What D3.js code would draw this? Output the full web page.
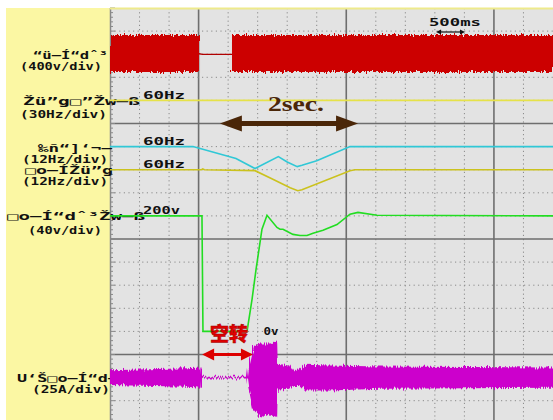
<!DOCTYPE html>
<html>
<head>
<meta charset="utf-8">
<title>scope</title>
<script src="https://cdn.jsdelivr.net/npm/d3@7/dist/d3.min.js"></script>
<style>
body{margin:0;background:#fff;}
svg{display:block;}
.lbl{font-family:"DejaVu Sans Mono",monospace;font-weight:bold;font-size:10px;fill:#111;}
.small{font-family:"DejaVu Sans Mono",monospace;font-weight:bold;font-size:10px;fill:#111;}
</style>
</head>
<body>
<div id="chart"></div>
<script>
// time in seconds, 0.5 s / div, 15 div across
var timeDomain = [0, 7.5];

// input voltage (V), envelope [t, max, min]
var inputOn1 = [[0, 332, -308], [1.507, 332, -308]];
var inputOn2 = [[2.065, 332, -308], [7.5, 332, -308]];
var inputOff = [[1.507, 8], [1.57, -2], [2.065, -2]];

// frequency command (Hz)
var freqCmd = [[0, 60], [7.5, 60]];

// rotation speed (Hz)
var speed = [[0, 60], [1.405, 60], [2.133, 53.8], [2.455, 48.6], [2.85, 54.8],
  [3.0, 52.0], [3.17, 49.6], [3.25, 50.3], [3.5, 52.7], [4.063, 60], [7.5, 60]];

// output frequency (Hz)
var outFreq = [[0, 60], [1.55, 60], [1.57, 60.4], [1.6, 60], [2.455, 59.5], [2.74, 55.3],
  [3.05, 50.6], [3.18, 49.1], [3.25, 49.6], [4.063, 59.5], [4.15, 60], [7.5, 60]];

// output voltage command (V)
var voltCmd = [[0, 200], [1.557, 200], [1.574, 0], [2.32, 0], [2.404, 55], [2.472, 107],
  [2.573, 177], [2.658, 201], [2.827, 180], [2.878, 177], [2.929, 177], [3.098, 168],
  [3.217, 166], [3.335, 166], [3.437, 170], [3.606, 175], [3.843, 185], [4.063, 203],
  [4.198, 206], [4.52, 201], [7.5, 200]];

// U phase output current (A), envelope [t, max, min]
var current = [[0, 8, -8], [1.3, 10, -10], [1.55, 11, -11], [1.56, 1, -1], [2.32, 1, -1],
  [2.34, 12, -10], [2.42, 34, -34], [2.54, 37, -43], [2.71, 37, -40], [2.83, 39, -43],
  [2.84, 15, -13], [3.05, 13, -12], [3.1, 8, -9], [3.22, 9, -9], [3.3, 14, -14],
  [3.72, 13, -14], [4.57, 12, -12], [7.5, 11, -11]];

var labelNames = ["\u201c\u00fc\u2014\u00cd\u201cd\u02c6\u00b3", "\u017d\u00fc\u201dg\u25a1\u201d\u017dw\u2014\u00df",
  "\u2030\u00f1\u201c]\u2018\u00ac\u2014", "\u25a1o\u2014\u00cd\u017d\u00fc\u201dg",
  "\u25a1o\u2014\u00cd\u201cd\u02c6\u00b3\u017dw\u2014\u00df", "U\u2018\u0160\u25a1o\u2014\u00cd\u201cd\u2014"];
var labelScales = ["(400v/div)", "(30Hz/div)", "(12Hz/div)", "(12Hz/div)", "(40v/div)", "(25A/div)"];

var W = 553, H = 420;
var svg = d3.select("#chart").append("svg").attr("width", W).attr("height", H);

var x = d3.scaleLinear().domain(timeDomain).range([110, 553]);
var div = d3.scaleLinear().domain([0, 18]).range([8, 8 + 18 * 23.1]);
function chan(zeroDiv, perDiv) {
  return d3.scaleLinear().domain([0, perDiv]).range([div(zeroDiv), div(zeroDiv - 1)]);
}
var yRed = chan(2, 400), yF1 = chan(6, 30), yCy = chan(11, 12), yF2 = chan(12, 12),
    yGr = chan(14, 40), yMg = chan(16, 25);

// noise filter for the dense waveforms
var defs = svg.append("defs");
var f = defs.append("filter").attr("id", "rough").attr("x", "-5%").attr("y", "-20%").attr("width", "110%").attr("height", "140%");
f.append("feTurbulence").attr("type", "fractalNoise").attr("baseFrequency", "0.9 0.02").attr("numOctaves", 1).attr("seed", 3).attr("result", "n");
f.append("feDisplacementMap").attr("in", "SourceGraphic").attr("in2", "n").attr("scale", 7).attr("xChannelSelector", "B").attr("yChannelSelector", "R");
defs.append("clipPath").attr("id", "clip").append("rect").attr("x", 110).attr("y", 8).attr("width", 443).attr("height", 412);

// left yellow panel
svg.append("rect").attr("x", 6).attr("y", 8).attr("width", 104).attr("height", 412).attr("fill", "#fbf7a3");
// grid background
svg.append("rect").attr("x", 110).attr("y", 8).attr("width", 443).attr("height", 412).attr("fill", "#e3e3e3");

var grid = svg.append("g").attr("clip-path", "url(#clip)");
d3.range(1, 15).forEach(function(k) {
  var t = k * 0.5, major = (k % 5 == 3);
  grid.append("line").attr("x1", x(t)).attr("x2", x(t)).attr("y1", 8).attr("y2", H)
    .attr("stroke", major ? "#6e6e6e" : "#8a8a8a").attr("stroke-width", major ? 1.6 : 1)
    .attr("stroke-dasharray", major ? null : "1.2,3");
});
d3.range(1, 18).forEach(function(k) {
  var major = (k % 5 == 0);
  grid.append("line").attr("x1", 110).attr("x2", W).attr("y1", div(k)).attr("y2", div(k))
    .attr("stroke", major ? "#6e6e6e" : "#8a8a8a").attr("stroke-width", major ? 1.6 : 1)
    .attr("stroke-dasharray", major ? null : "1.2,3.4");
});
// left ruler
svg.append("line").attr("x1", 110.5).attr("x2", 110.5).attr("y1", 8).attr("y2", H).attr("stroke", "#888").attr("stroke-width", 1.5);
d3.range(0, 18 * 5).forEach(function(k) {
  svg.append("line").attr("x1", 110).attr("x2", 110 + (k % 5 == 0 ? 5 : 3))
    .attr("y1", div(k / 5)).attr("y2", div(k / 5)).attr("stroke", "#888");
});
svg.append("line").attr("x1", 110).attr("x2", W).attr("y1", 8.5).attr("y2", 8.5).attr("stroke", "#eeea8c").attr("stroke-width", 2);

// channel labels
var labelPos = [
  {x1: 33, x2: 108, y1: 55, x3: 20, x4: 102, y2: 66},
  {x1: 23, x2: 140, y1: 101, x3: 20, x4: 107, y2: 114},
  {x1: 38, x2: 112, y1: 148, x3: 22, x4: 108, y2: 159},
  {x1: 25, x2: 113, y1: 170, x3: 22, x4: 108, y2: 181},
  {x1: 7, x2: 145, y1: 216, x3: 28, x4: 102, y2: 230},
  {x1: 17, x2: 118, y1: 378, x3: 32, x4: 110, y2: 389}
];
labelNames.forEach(function(n, i) {
  var p = labelPos[i];
  svg.append("text").attr("class", "lbl").attr("x", p.x1).attr("y", p.y1 + 3.5)
    .attr("textLength", p.x2 - p.x1).attr("lengthAdjust", "spacingAndGlyphs").text(n);
  svg.append("text").attr("class", "lbl").attr("x", p.x3).attr("y", p.y2 + 3.5)
    .attr("textLength", p.x4 - p.x3).attr("lengthAdjust", "spacingAndGlyphs").text(labelScales[i]);
});

var traces = svg.append("g").attr("clip-path", "url(#clip)");
var env = function(ys) {
  return d3.area().x(function(d) { return x(d[0]); }).y0(function(d) { return ys(d[2]); }).y1(function(d) { return ys(d[1]); });
};
var ln = function(ys) {
  return d3.line().x(function(d) { return x(d[0]); }).y(function(d) { return ys(d[1]); });
};

// red: input voltage
[inputOn1, inputOn2].forEach(function(s) {
  traces.append("path").attr("d", env(yRed)(s)).attr("fill", "#cc0000").attr("filter", "url(#rough)");
});
traces.append("path").attr("d", ln(yRed)(inputOff)).attr("fill", "none").attr("stroke", "#b00000").attr("stroke-width", 1.3);

traces.append("path").attr("d", ln(yF1)(freqCmd)).attr("fill", "none").attr("stroke", "#e6e24a").attr("stroke-width", 1.6);
traces.append("path").attr("d", ln(yCy)(speed)).attr("fill", "none").attr("stroke", "#30c8d6").attr("stroke-width", 1.6);
traces.append("path").attr("d", ln(yF2)(outFreq)).attr("fill", "none").attr("stroke", "#cbc21e").attr("stroke-width", 1.6);
traces.append("path").attr("d", ln(yGr)(voltCmd)).attr("fill", "none").attr("stroke", "#22dd22").attr("stroke-width", 1.6);

// magenta: U phase current
traces.append("path").attr("d", env(yMg)(current)).attr("fill", "#cc00cc").attr("filter", "url(#rough)");

// level markers
var small = [
  {t: 0.56, y: yF1(60) - 5, s: "60Hz", w: 42},
  {t: 0.56, y: yCy(60) - 5, s: "60Hz", w: 42},
  {t: 0.56, y: yF2(60) - 5, s: "60Hz", w: 42},
  {t: 0.56, y: yGr(200) - 5, s: "200v", w: 37},
  {t: 2.6, y: yGr(0), s: "0v", w: 15}
];
small.forEach(function(d) {
  svg.append("text").attr("class", "small").attr("x", x(d.t)).attr("y", d.y + 3.5)
    .attr("textLength", d.w).attr("lengthAdjust", "spacingAndGlyphs").text(d.s);
});

// 500ms scale marker
svg.append("text").attr("class", "small").attr("x", x(5.4)).attr("y", 26).attr("textLength", 52).attr("lengthAdjust", "spacingAndGlyphs").text("500ms");
function dblArrow(g, xa, xb, y, col, w, hl, hw) {
  g.append("line").attr("x1", xa + hl - 1).attr("x2", xb - hl + 1).attr("y1", y).attr("y2", y).attr("stroke", col).attr("stroke-width", w);
  g.append("path").attr("d", "M" + xa + "," + y + "L" + (xa + hl) + "," + (y - hw) + "L" + (xa + hl) + "," + (y + hw) + "Z").attr("fill", col);
  g.append("path").attr("d", "M" + xb + "," + y + "L" + (xb - hl) + "," + (y - hw) + "L" + (xb - hl) + "," + (y + hw) + "Z").attr("fill", col);
}
dblArrow(svg, x(5.52), x(6.01), 32, "#111", 1.2, 5, 2.5);

// 2 sec arrow
dblArrow(svg, x(1.86), x(4.2), div(5), "#4a2608", 5, 22, 8);
svg.append("text").attr("x", 268).attr("y", 111).attr("textLength", 56).attr("lengthAdjust", "spacingAndGlyphs")
  .style("font-family", "'Liberation Serif',serif").style("font-weight", "bold").style("font-size", "22px")
  .attr("fill", "#4a2608").text("2sec.");

// idle run arrow
dblArrow(svg, x(1.56), x(2.42), div(15), "#dd0000", 3, 12, 6);
svg.append("text").attr("x", 210).attr("y", 341)
  .style("font-family", "'Noto Sans CJK SC',sans-serif").style("font-weight", "900").style("font-size", "19px")
  .attr("fill", "#e00000").attr("stroke", "#900").attr("stroke-width", 0.4).text("空转");
</script>
</body>
</html>
